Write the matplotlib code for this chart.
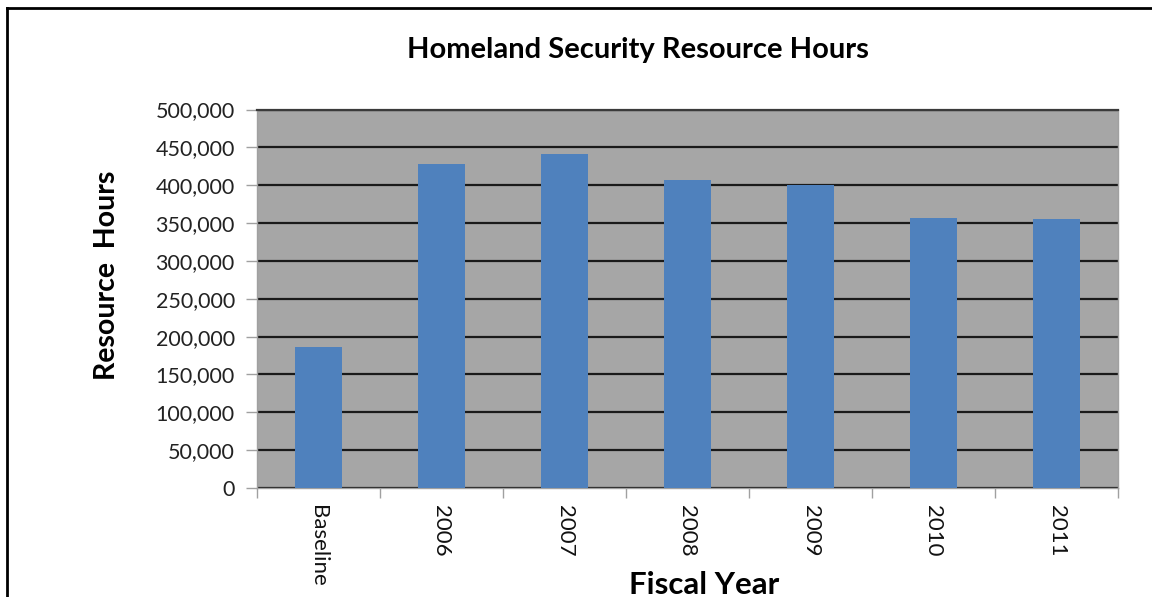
import numpy as np
import matplotlib.pyplot as plt
from matplotlib.lines import Line2D
from matplotlib.ticker import FuncFormatter, FixedLocator

# 数据
categories = ['Baseline', '2006', '2007', '2008', '2009', '2010', '2011']
hours = [186000, 428000, 441000, 407000, 400000, 357000, 355000]

plt.rcParams['font.family'] = ['Lato', 'DejaVu Sans']

fig = plt.figure(figsize=(11.52, 5.97), dpi=100)
ax = fig.add_axes([257 / 1152, 1 - 488 / 597, (1118 - 257) / 1152, (488 - 109.5) / 597])

x = np.arange(len(categories))
ax.set_facecolor('#a6a6a6')
ax.bar(x, hours, width=0.39, color='#4f81bd', zorder=3)

ax.set_xlim(-0.5, len(categories) - 0.5)
ax.set_ylim(0, 500000)
ax.set_yticks(np.arange(0, 500001, 50000))
ax.yaxis.set_major_formatter(FuncFormatter(lambda v, p: '{:,.0f}'.format(v)))
ax.grid(axis='y', color='#1a1a1a', linewidth=1.6, zorder=1)
ax.set_axisbelow(True)

ax.set_xticks(x)
ax.set_xticklabels(categories, rotation=-90, va='top', ha='center')
ax.xaxis.set_minor_locator(FixedLocator(np.arange(-0.5, len(categories), 1)))
ax.tick_params(axis='x', which='major', length=0, pad=12, labelsize=16, labelcolor='#111111')
ax.tick_params(axis='x', which='minor', length=7, color='#a0a0a0', width=1)
ax.tick_params(axis='y', length=8, color='#a0a0a0', width=1, pad=8, labelsize=15.5, labelcolor='#222222')

for s in ['left', 'bottom', 'right']:
    ax.spines[s].set_color('#a0a0a0')
    ax.spines[s].set_linewidth(1)
ax.spines['top'].set_color('#3a3a3a')
ax.spines['top'].set_linewidth(1.6)

fig.text(638 / 1152, 1 - 50 / 597, 'Homeland Security Resource Hours', ha='center', va='center',
         fontsize=21, fontweight='bold')
fig.text(107 / 1152, 1 - 275 / 597, 'Resource  Hours', ha='center', va='center', rotation=90,
         fontsize=20.5, fontweight='bold')
fig.text(704 / 1152, 1 - 594 / 597, 'Fiscal Year', ha='center', va='baseline',
         fontsize=22.5, fontweight='bold')

# 外框
fig.add_artist(Line2D([7 / 1152, 7 / 1152], [0, 1 - 8 / 597], color='black', linewidth=2))
fig.add_artist(Line2D([7 / 1152, 1], [1 - 8 / 597, 1 - 8 / 597], color='black', linewidth=2))

fig.savefig('out.png', dpi=100)
